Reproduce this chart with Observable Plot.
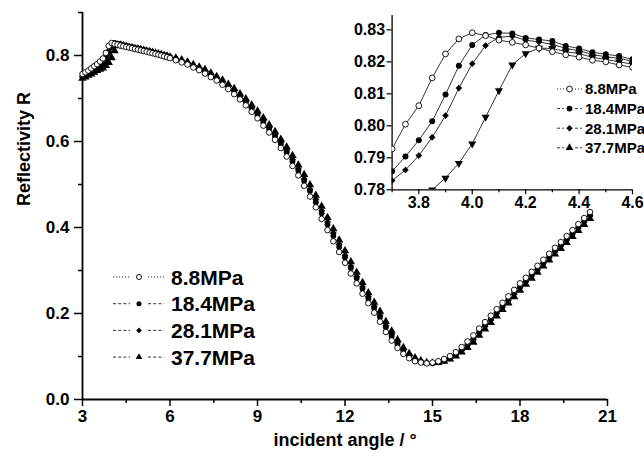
<!DOCTYPE html>
<html><head><meta charset="utf-8">
<script src="https://cdn.jsdelivr.net/npm/d3@7"></script>
<script src="https://cdn.jsdelivr.net/npm/@observablehq/plot@0.6"></script>
<style>
body{margin:0;background:#fff;}
#wrap{position:relative;width:644px;height:464px;font-family:"Liberation Sans",Arial,sans-serif;}
#wrap svg{position:absolute;overflow:visible;}
</style></head><body><div id="wrap"></div>
<script>
const seriesNames = ["8.8MPa", "18.4MPa", "28.1MPa", "37.7MPa"];
const xTicks = [3, 6, 9, 12, 15, 18, 21];
const xMinor = [4.5, 7.5, 10.5, 13.5, 16.5, 19.5];
const yTicks = [0, 0.2, 0.4, 0.6, 0.8];
const yMinor = [0.1, 0.3, 0.5, 0.7, 0.9];
const insetXTicks = [3.8, 4.0, 4.2, 4.4, 4.6];
const insetXMinor = [3.7, 3.9, 4.1, 4.3, 4.5];
const insetYTicks = [0.78, 0.79, 0.80, 0.81, 0.82, 0.83];

const angle = [3.0,3.1,3.2,3.3,3.4,3.5,3.6,3.7,3.8,3.9,4.0,4.1,4.2,4.3,4.4,4.5,4.6,4.7,4.8,4.9,5.0,5.1,5.2,5.3,5.4,5.5,5.6,5.7,5.8,5.9,6.0,
6.2,6.4,6.6,6.8,7.0,7.2,7.4,7.6,7.8,8.0,8.2,8.4,8.6,8.8,9.0,9.2,9.4,9.6,9.8,10.0,10.2,10.4,10.6,10.8,11.0,11.2,11.4,11.6,11.8,12.0,
12.2,12.4,12.6,12.8,13.0,13.2,13.4,13.6,13.8,14.0,14.2,14.4,14.6,14.8,15.0,15.2,15.4,15.6,15.8,16.0,16.2,16.4,16.6,16.8,17.0,17.2,
17.4,17.6,17.8,18.0,18.2,18.4,18.6,18.8,19.0,19.2,19.4,19.6,19.8,20.0,20.2,20.4];

const r88 = [0.757,0.761,0.765,0.770,0.775,0.780,0.786,0.793,
0.806,0.8225,0.829,0.8268,0.8253,0.8232,0.8215,0.8200,0.8183,
0.8168,0.8152,0.8136,0.8120,0.8104,0.8088,0.8071,0.8054,0.8037,0.8019,0.8000,0.7980,0.7960,0.7938,
0.789,0.784,0.779,0.772,0.766,0.758,0.750,0.742,0.732,0.722,
0.710,0.698,0.684,0.669,0.654,0.637,0.621,0.604,0.585,0.565,
0.543,0.521,0.497,0.472,0.447,0.420,0.394,0.368,0.343,0.318,
0.293,0.270,0.246,0.224,0.202,0.181,0.157,0.137,0.120,0.106,
0.096,0.089,0.086,0.084,0.086,0.089,0.094,0.101,0.110,0.122,
0.135,0.149,0.165,0.180,0.195,0.210,0.225,0.240,0.255,0.270,
0.283,0.297,0.311,0.325,0.339,0.353,0.366,0.380,0.394,0.408,
0.422,0.436];

const r184 = [0.752,0.756,0.760,0.764,0.768,0.773,0.779,0.7858,
0.7955,0.8098,0.8253,0.8291,0.8275,0.8265,0.8242,0.8224,0.8208,
0.8192,0.8176,0.8160,0.8144,0.8128,0.8112,0.8096,0.8079,0.8062,0.8044,0.8026,0.8007,0.7987,0.7966,
0.792,0.787,0.781,0.775,0.769,0.762,0.754,0.746,0.737,0.727,
0.716,0.704,0.691,0.677,0.661,0.645,0.629,0.612,0.594,0.575,
0.554,0.532,0.509,0.485,0.459,0.433,0.407,0.381,0.355,0.331,
0.306,0.282,0.258,0.235,0.213,0.192,0.168,0.147,0.128,0.113,
0.101,0.092,0.088,0.085,0.085,0.087,0.092,0.098,0.106,0.116,
0.128,0.141,0.158,0.173,0.188,0.203,0.218,0.233,0.248,0.262,
0.276,0.290,0.304,0.318,0.332,0.346,0.359,0.373,0.387,0.401,
0.415,0.429];

const r281 = [0.750,0.754,0.758,0.762,0.766,0.770,0.776,0.7829,
0.7907,0.8032,0.8194,0.8277,0.8268,0.8255,0.8235,0.8216,0.8202,
0.8187,0.8172,0.8157,0.8141,0.8125,0.8109,0.8093,0.8077,0.8060,0.8043,0.8025,0.8006,0.7987,0.7967,
0.792,0.787,0.783,0.777,0.771,0.764,0.756,0.748,0.739,0.729,
0.718,0.706,0.693,0.679,0.665,0.649,0.633,0.616,0.598,0.579,
0.558,0.536,0.513,0.489,0.465,0.439,0.413,0.387,0.361,0.335,
0.310,0.286,0.262,0.239,0.217,0.196,0.172,0.151,0.132,0.115,
0.103,0.094,0.088,0.085,0.085,0.087,0.091,0.096,0.104,0.114,
0.126,0.139,0.155,0.170,0.185,0.200,0.215,0.230,0.245,0.260,
0.274,0.288,0.302,0.316,0.330,0.344,0.357,0.371,0.385,0.399,
0.413,0.427];

const r377 = [0.747,0.750,0.754,0.757,0.761,0.765,0.768,0.771,
0.7765,0.7837,0.7944,0.8110,0.8226,0.8242,0.8226,0.8208,0.8193,
0.8178,0.8164,0.8150,0.8135,0.8120,0.8105,0.8089,0.8073,0.8057,0.8040,0.8023,0.8005,0.7986,0.7966,
0.794,0.790,0.785,0.779,0.773,0.767,0.759,0.751,0.743,0.733,
0.723,0.711,0.699,0.685,0.671,0.655,0.639,0.623,0.605,0.587,
0.567,0.545,0.523,0.499,0.475,0.449,0.423,0.397,0.371,0.346,
0.320,0.296,0.272,0.248,0.226,0.205,0.181,0.159,0.139,0.121,
0.107,0.097,0.090,0.086,0.085,0.086,0.089,0.094,0.101,0.110,
0.121,0.133,0.149,0.164,0.179,0.194,0.209,0.224,0.239,0.254,
0.268,0.282,0.296,0.310,0.324,0.338,0.351,0.365,0.379,0.393,
0.407,0.421];

const insetAngle = [3.70,3.75,3.80,3.85,3.90,3.95,4.00,4.05,4.10,4.15,4.20,4.25,4.30,4.35,4.40,4.45,4.50,4.55,4.60];
const in88  = [0.7928,0.8005,0.8063,0.8150,0.8225,0.8272,0.8291,0.8282,0.8268,0.8261,0.8253,0.8243,0.8232,0.8222,0.8215,0.8205,0.8200,0.8190,0.8183];
const in184 = [0.7858,0.7904,0.7955,0.8014,0.8098,0.8188,0.8253,0.8284,0.8291,0.8289,0.8275,0.8270,0.8265,0.8250,0.8242,0.8230,0.8224,0.8218,0.8208];
const in281 = [0.7829,0.7862,0.7907,0.7964,0.8032,0.8118,0.8194,0.8251,0.8277,0.8280,0.8268,0.8262,0.8255,0.8242,0.8235,0.8223,0.8216,0.8211,0.8202];
const in377 = [0.7720,0.7740,0.7765,0.7800,0.7837,0.7883,0.7944,0.8027,0.8110,0.8191,0.8226,0.8243,0.8242,0.8232,0.8226,0.8214,0.8208,0.8200,0.8193];

const FONT = '"Liberation Sans", Arial, Helvetica, sans-serif';
const rows = (xs, ys) => xs.map((x, i) => ({x, y: ys[i]}));

const triangleDown = {
  draw(context, size) {
    const y = -Math.sqrt(size / (Math.sqrt(3) * 3));
    const s3 = Math.sqrt(3);
    context.moveTo(0, -y * 2);
    context.lineTo(-s3 * y, y);
    context.lineTo(s3 * y, y);
    context.closePath();
  }
};

const wrap = document.getElementById("wrap");

// ---------- main chart ----------
const mainStyles = [
  {data: rows(angle, r377), symbol: "triangle", fill: "black", stroke: "none", r: 3.1},
  {data: rows(angle, r281), symbol: "diamond2", fill: "black", stroke: "none", r: 3.1},
  {data: rows(angle, r184), symbol: "circle", fill: "black", stroke: "none", r: 2.9},
  {data: rows(angle, r88), symbol: "circle", fill: "white", stroke: "black", r: 2.8}
];

const main = Plot.plot({
  width: 644, height: 464,
  marginLeft: 82, marginRight: 37, marginTop: 12, marginBottom: 65,
  x: {domain: [3, 21]},
  y: {domain: [0, 0.9]},
  style: {fontFamily: FONT, fontWeight: "bold", fontSize: "17px", color: "black", background: "transparent"},
  marks: [
    Plot.axisX({ticks: xTicks, tickSize: 7, tickPadding: 3, tickFormat: d => String(d), label: null, strokeWidth: 1.5, fontSize: 17, fontWeight: "bold"}),
    Plot.axisX({ticks: xMinor, tickSize: 4, tickFormat: () => "", label: null, strokeWidth: 1.5}),
    Plot.axisY({ticks: yTicks, tickSize: 8, tickPadding: 5, tickFormat: d3.format(".1f"), label: null, strokeWidth: 1.5, fontSize: 17, fontWeight: "bold"}),
    Plot.axisY({ticks: yMinor, tickSize: 4, tickFormat: () => "", label: null, strokeWidth: 1.5}),
    Plot.ruleY([0], {strokeWidth: 1.8}),
    Plot.ruleX([3], {strokeWidth: 1.8}),
    ...mainStyles.map(s => Plot.dot(s.data, {x: "x", y: "y", symbol: s.symbol, r: s.r, fill: s.fill, stroke: s.stroke, strokeWidth: 0.9})),
    Plot.text(["incident angle / °"], {text: d => d, frameAnchor: "bottom", dy: 46, fontSize: 18, fontWeight: "bold", fill: "black"}),
    Plot.text(["Reflectivity R"], {text: d => d, frameAnchor: "left", dx: -58, rotate: -90, fontSize: 18, fontWeight: "bold", fill: "black"})
  ]
});
main.style.left = "0px"; main.style.top = "0px";
wrap.appendChild(main);

// ---------- inset ----------
const insetSeries = [
  {ys: in377, symbol: triangleDown, fill: "black", stroke: "none", r: 3.0},
  {ys: in281, symbol: "diamond2", fill: "black", stroke: "none", r: 3.0},
  {ys: in184, symbol: "circle", fill: "black", stroke: "none", r: 3.0},
  {ys: in88, symbol: "circle", fill: "white", stroke: "black", r: 2.9}
];
const inset = Plot.plot({
  width: 314, height: 215,
  marginLeft: 61.6, marginRight: 12, marginTop: 15, marginBottom: 25.7,
  x: {domain: [3.7, 4.6]},
  y: {domain: [0.78, 0.8345]},
  style: {fontFamily: FONT, fontWeight: "bold", fontSize: "16px", color: "black", background: "transparent"},
  marks: [
    Plot.axisX({ticks: insetXTicks, tickSize: 5, tickPadding: 2, tickFormat: d3.format(".1f"), label: null, strokeWidth: 1.2, fontSize: 16, fontWeight: "bold"}),
    Plot.axisX({ticks: insetXMinor, tickSize: 3, tickFormat: () => "", label: null, strokeWidth: 1.2}),
    Plot.axisY({ticks: insetYTicks, tickSize: 5, tickPadding: 2, tickFormat: d3.format(".2f"), label: null, strokeWidth: 1.2, fontSize: 16, fontWeight: "bold"}),
    Plot.ruleY([0.78], {strokeWidth: 1.3}),
    Plot.ruleX([3.7], {strokeWidth: 1.3}),
    ...insetSeries.map(s => Plot.line(rows(insetAngle, s.ys), {x: "x", y: "y", stroke: "black", strokeWidth: 0.8, clip: true})),
    ...insetSeries.map(s => Plot.dot(rows(insetAngle, s.ys), {x: "x", y: "y", symbol: s.symbol, r: s.r, fill: s.fill, stroke: s.stroke, strokeWidth: 0.9, clip: true}))
  ]
});
inset.style.left = "330px"; inset.style.top = "0px";
wrap.appendChild(inset);

// ---------- legends ----------
const legSvg = d3.select(wrap).append("svg")
  .attr("width", 644).attr("height", 464)
  .style("left", "0px").style("top", "0px").style("pointer-events", "none");

const legSymbols = [d3.symbolCircle, d3.symbolCircle, d3.symbolDiamond2, d3.symbolTriangle];
const legFills = ["white", "black", "black", "black"];
const legDash = ["1.2,1.8", "3,2.2", "3,2.2", "3,2.2"];

function drawLegend(cfg) {
  seriesNames.forEach((name, i) => {
    const y = cfg.y0 + i * cfg.dy;
    const g = legSvg.append("g");
    [[cfg.x1, cfg.x2], [cfg.x3, cfg.x4]].forEach(([a, b]) => {
      g.append("line").attr("x1", a).attr("x2", b).attr("y1", y).attr("y2", y)
        .attr("stroke", "#333").attr("stroke-width", 1).attr("stroke-dasharray", legDash[i]);
    });
    g.append("path")
      .attr("transform", `translate(${cfg.xs},${y})`)
      .attr("d", d3.symbol(legSymbols[i], cfg.size)())
      .attr("fill", legFills[i]).attr("stroke", i === 0 ? "black" : "none").attr("stroke-width", 0.9);
    g.append("text").attr("x", cfg.xt).attr("y", y).attr("dy", "0.36em")
      .attr("font-family", FONT).attr("font-weight", "bold").attr("font-size", cfg.font)
      .attr("fill", "black").text(name);
  });
}
drawLegend({y0: 277, dy: 26.7, x1: 113, x2: 130, x3: 148, x4: 164, xs: 139, xt: 171, size: 20, font: 21});
drawLegend({y0: 89, dy: 19.6, x1: 557, x2: 564, x3: 575, x4: 582, xs: 569.5, xt: 585, size: 26, font: 15});
</script>
</body></html>
